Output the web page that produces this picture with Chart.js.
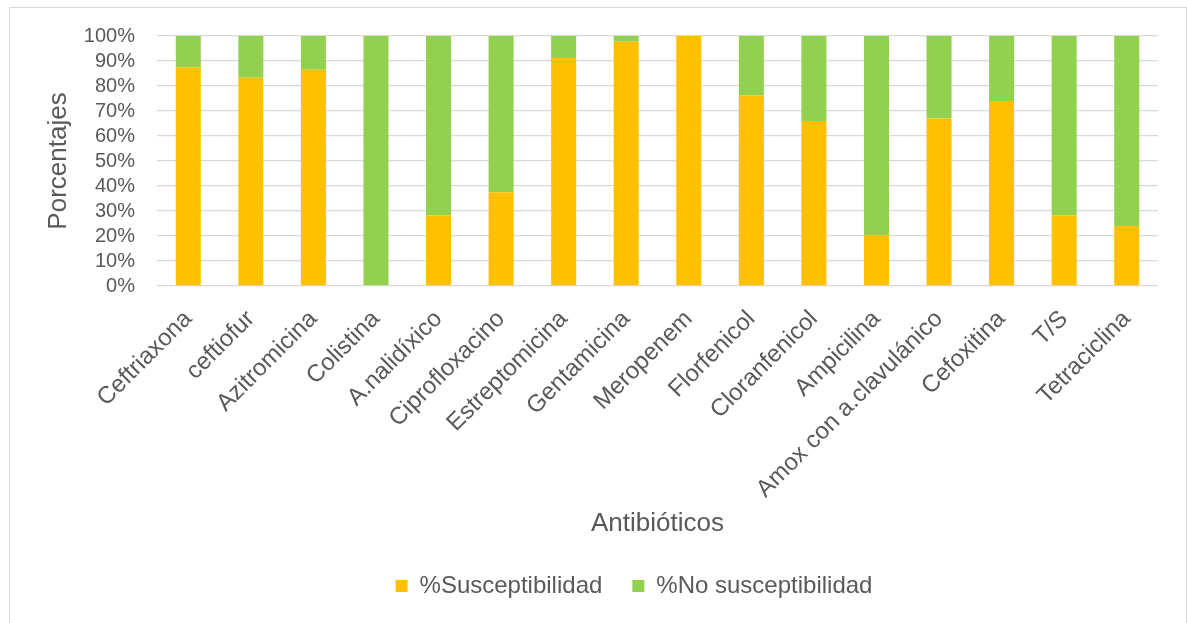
<!DOCTYPE html>
<html lang="es">
<head>
<meta charset="utf-8">
<title>Susceptibilidad antimicrobiana</title>
<script src="https://cdn.jsdelivr.net/npm/chart.js@4.4.1/dist/chart.umd.min.js"></script>
<style>
  html, body { margin: 0; padding: 0; background: #ffffff; overflow: hidden; }
  #frame {
    position: absolute;
    left: 9px;
    top: 7px;
    width: 1176px;
    height: 620px;
    border: 1px solid #d9d9d9;
    background: #ffffff;
  }
  #chart { display: block; }
</style>
</head>
<body>
<div id="frame">
  <canvas id="chart" width="1176" height="615"></canvas>
</div>
<script>
// Antibiotics tested
const antibioticos = [
  'Ceftriaxona', 'ceftiofur', 'Azitromicina', 'Colistina', 'A.nalidíxico',
  'Ciprofloxacino', 'Estreptomicina', 'Gentamicina', 'Meropenem', 'Florfenicol',
  'Cloranfenicol', 'Ampicilina', 'Amox con a.clavulánico', 'Cefoxitina', 'T/S',
  'Tetraciclina'
];

// Percentage of susceptible isolates per antibiotic
const susceptibilidad = [
  87.5, 83.3, 86.5, 0, 28.3, 37.5, 91.2, 97.7,
  100, 76.2, 66.0, 20.3, 67.0, 74.0, 28.3, 24.0
];

// Percentage of non-susceptible isolates per antibiotic
const noSusceptibilidad = [
  12.5, 16.7, 13.5, 100, 71.7, 62.5, 8.8, 2.3,
  0, 23.8, 34.0, 79.7, 33.0, 26.0, 71.7, 76.0
];

// Y axis ticks (percent)
const ticksPorcentaje = [0, 10, 20, 30, 40, 50, 60, 70, 80, 90, 100];

const serieNombres = ['%Susceptibilidad', '%No susceptibilidad'];
const serieColores = ['#FFC000', '#92D050'];

const FONT = "'Liberation Sans', Arial, Helvetica, sans-serif";
const TEXT = '#595959';
const GRID = '#d9d9d9';

// Nudges the centred legend row sideways after the layout pass
const legendOffset = {
  id: 'legendOffset',
  afterLayout(chart, args, opts) {
    const lg = chart.legend;
    if (lg) {
      lg.left += opts.dx || 0;
      lg.right += opts.dx || 0;
    }
  }
};

new Chart(document.getElementById('chart'), {
  type: 'bar',
  data: {
    labels: antibioticos,
    datasets: [
      {
        label: serieNombres[0],
        data: susceptibilidad,
        backgroundColor: serieColores[0],
        borderWidth: 0,
        categoryPercentage: 1,
        barPercentage: 0.4
      },
      {
        label: serieNombres[1],
        data: noSusceptibilidad,
        backgroundColor: serieColores[1],
        borderWidth: 0,
        categoryPercentage: 1,
        barPercentage: 0.4
      }
    ]
  },
  options: {
    responsive: false,
    animation: false,
    layout: { padding: { top: 28, right: 28, bottom: 15, left: 0 } },
    scales: {
      x: {
        stacked: true,
        grid: { display: false, drawTicks: false },
        border: { display: false },
        ticks: {
          color: TEXT,
          font: { family: FONT, size: 24 },
          minRotation: 45,
          maxRotation: 45,
          autoSkip: false,
          padding: 19
        },
        title: {
          display: true,
          text: 'Antibióticos',
          color: TEXT,
          font: { family: FONT, size: 26 },
          padding: { top: 0, bottom: 5 }
        },
        afterFit(scale) { scale.height = 258; }
      },
      y: {
        stacked: true,
        min: 0,
        max: 100,
        grid: { color: GRID, lineWidth: 1.3, drawTicks: false },
        border: { display: false },
        afterBuildTicks(scale) {
          scale.ticks = ticksPorcentaje.map(v => ({ value: v }));
        },
        ticks: {
          color: TEXT,
          font: { family: FONT, size: 20 },
          padding: 22,
          stepSize: 10,
          autoSkip: false,
          callback: v => v + '%'
        },
        title: {
          display: true,
          text: 'Porcentajes',
          color: TEXT,
          font: { family: FONT, size: 26 },
          padding: { top: 33, bottom: 0 }
        },
        afterFit(scale) {
          scale.width = 147;
          // the top label fits inside the layout padding
          scale.paddingTop = 0;
        }
      }
    },
    plugins: {
      legendOffset: { dx: 50 },
      legend: {
        position: 'bottom',
        labels: {
          color: TEXT,
          font: { family: FONT, size: 24 },
          boxWidth: 12,
          boxHeight: 12,
          padding: 30
        }
      },
      tooltip: { enabled: false }
    }
  },
  plugins: [legendOffset]
});
</script>
</body>
</html>
